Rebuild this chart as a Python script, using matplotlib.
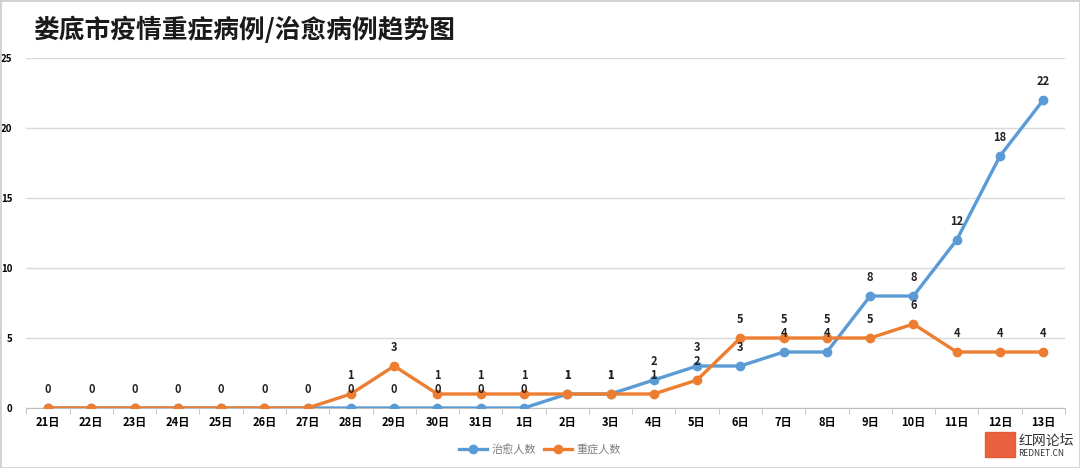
import numpy as np
import matplotlib.pyplot as plt
from matplotlib.patches import Rectangle

plt.rcParams['font.family'] = ['Noto Sans CJK SC', 'DejaVu Sans']

# data
days = ['21日', '22日', '23日', '24日', '25日', '26日', '27日', '28日', '29日', '30日', '31日',
        '1日', '2日', '3日', '4日', '5日', '6日', '7日', '8日', '9日', '10日', '11日', '12日', '13日']
cured = [0, 0, 0, 0, 0, 0, 0, 0, 0, 0, 0, 0, 1, 1, 2, 3, 3, 4, 4, 8, 8, 12, 18, 22]
severe = [0, 0, 0, 0, 0, 0, 0, 1, 3, 1, 1, 1, 1, 1, 1, 2, 5, 5, 5, 5, 6, 4, 4, 4]

blue = '#5B9BD5'
orange = '#ED7D31'

fig = plt.figure(figsize=(10.8, 4.68), dpi=100)
ax = fig.add_axes([0.0244, 0.1282, 0.9616, 0.7478])

x = np.arange(len(days))
ax.plot(x, cured, color=blue, lw=2.4, marker='o', ms=6, label='治愈人数', zorder=3)
ax.plot(x, severe, color=orange, lw=2.4, marker='o', ms=6, label='重症人数', zorder=4)

# data labels
for i in range(len(days)):
    if i >= 7:
        ax.annotate(str(cured[i]), (x[i], cured[i]), xytext=(0, 9), textcoords='offset points',
                    ha='center', va='bottom', fontsize=8, fontweight='bold', color='#222222', zorder=5)
    ax.annotate(str(severe[i]), (x[i], severe[i]), xytext=(0, 9), textcoords='offset points',
                ha='center', va='bottom', fontsize=8, fontweight='bold', color='#222222', zorder=5)

ax.set_xlim(-0.5, len(days) - 0.5)
ax.set_ylim(0, 25)
ax.set_yticks([0, 5, 10, 15, 20, 25])
ax.set_yticklabels(['0', '5', '10', '15', '20', '25'], fontsize=7, fontweight='bold')
ax.set_xticks(x)
ax.set_xticklabels(days, fontsize=8, fontweight='bold')
ax.set_xticks(np.arange(-0.5, len(days), 1), minor=True)
ax.tick_params(axis='x', which='major', length=0, pad=6)
ax.tick_params(axis='x', which='minor', length=4, color='#BFBFBF')
ax.tick_params(axis='y', length=0, pad=10)
ax.grid(axis='y', color='#D9D9D9', lw=1)
ax.set_axisbelow(True)
for s in ['top', 'right', 'left']:
    ax.spines[s].set_visible(False)
ax.spines['bottom'].set_color('#BFBFBF')

fig.text(0.031, 0.935, '娄底市疫情重症病例/治愈病例趋势图', fontsize=18.5, fontweight='bold',
         color='#1a1a1a', va='center', ha='left')

leg = fig.legend(loc='center', bbox_to_anchor=(0.5, 0.04), ncol=2, frameon=False,
                 fontsize=8, handlelength=2.5, columnspacing=0.8, handletextpad=0.4)
for t in leg.get_texts():
    t.set_color('#7f7f7f')

# watermark
fig.patches.append(Rectangle((0.912, 0.024), 0.028, 0.053, transform=fig.transFigure,
                             color='#E8502A', alpha=0.9))
fig.text(0.943, 0.058, '红网论坛', fontsize=10, color='#333333', va='center')
fig.text(0.943, 0.030, 'REDNET.CN', fontsize=6, color='#333333', va='center')

# border
fig.patches.append(Rectangle((0, 0), 1, 1, transform=fig.transFigure, fill=False,
                             edgecolor='#D0D0D0', lw=2))

fig.savefig('out.png', dpi=100)
